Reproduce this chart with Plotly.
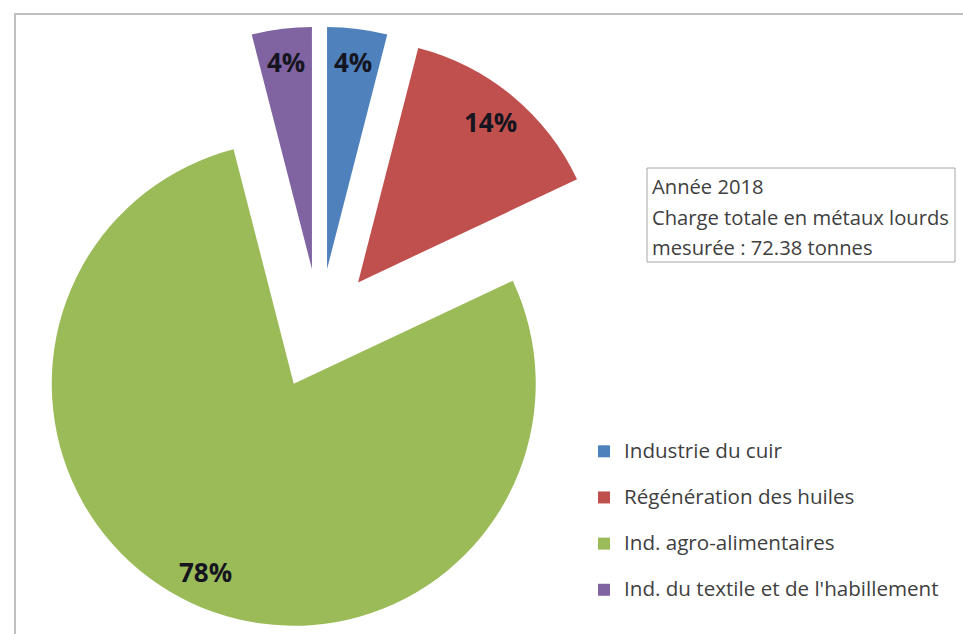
import math
import plotly.graph_objects as go

categories = ["Industrie du cuir", "Régénération des huiles",
              "Ind. agro-alimentaires", "Ind. du textile et de l'habillement"]
values = [4, 14, 78, 4]
colors = ["#4F81BD", "#C0504D", "#9BBB59", "#8064A2"]
pulls = [0.25, 0.25, 0.25, 0.25]
note_lines = ["Année 2018", "Charge totale en métaux lourds", "mesurée : 72.38 tonnes"]

W, H = 963, 634
FONT = "'Open Sans', Lato, sans-serif"
DOM_X = [17 / W, 622 / W]
DOM_Y = [1 - 631.5 / H, 1 - 26.5 / H]
LABEL_RADIUS = 0.86  # label distance from slice tip, fraction of radius

fig = go.Figure(go.Pie(
    labels=[f"<span style='font-size:20.6px'>{c}</span><br> " for c in categories],
    values=values,
    sort=False,
    direction="clockwise",
    rotation=0,
    pull=pulls,
    marker=dict(colors=colors, line=dict(width=0)),
    textinfo="none",
    domain=dict(x=DOM_X, y=DOM_Y),
    hovertemplate="%{customdata}: %{percent:.0%}<extra></extra>",
    customdata=categories,
))

# percentage labels placed along each slice's bisector (derived from the data)
box_w = W * (DOM_X[1] - DOM_X[0])
box_h = H * (DOM_Y[1] - DOM_Y[0])
r = min(box_w, box_h) / 2 / (1 + max(pulls))
cx = W * (DOM_X[0] + DOM_X[1]) / 2
cy = H * (1 - (DOM_Y[0] + DOM_Y[1]) / 2)
total = sum(values)
cum = 0
for v, p in zip(values, pulls):
    theta = 2 * math.pi * (cum + v / 2) / total
    cum += v
    d = (p + LABEL_RADIUS) * r
    px = cx + d * math.sin(theta)
    py = cy - d * math.cos(theta)
    fig.add_annotation(text=f"<b>{round(100 * v / total)}%</b>",
                       xref="paper", yref="paper", x=px / W, y=1 - py / H,
                       xanchor="center", yanchor="middle", showarrow=False,
                       font=dict(family=FONT, size=26, color="#15151f"))

# outer chart frame (only top and left edges visible in the crop)
fig.add_shape(type="rect", xref="paper", yref="paper",
              x0=15 / W, x1=1.2, y0=-0.2, y1=1 - 14 / H,
              line=dict(color="#BFBFBF", width=2), layer="below")

# note box
fig.add_shape(type="rect", xref="paper", yref="paper",
              x0=647 / W, x1=955 / W, y0=1 - 262 / H, y1=1 - 168 / H,
              line=dict(color="#A6A6A6", width=1))
for i, line in enumerate(note_lines):
    fig.add_annotation(text=line, xref="paper", yref="paper",
                       x=650 / W, y=1 - (186 + 30.5 * i) / H,
                       xanchor="left", yanchor="middle", showarrow=False,
                       font=dict(family=FONT, size=20.2, color="#404040"))

fig.update_layout(
    width=W, height=H,
    margin=dict(l=0, r=0, t=0, b=0),
    paper_bgcolor="white",
    plot_bgcolor="white",
    showlegend=True,
    legend=dict(x=584 / W, xanchor="left", y=1 - 434 / H, yanchor="top",
                valign="top", bgcolor="rgba(0,0,0,0)",
                font=dict(family=FONT, size=16.6, color="#404040")),
)

fig.write_html("out.html", config={"displayModeBar": False},
               post_script="document.body.style.margin='0';")
